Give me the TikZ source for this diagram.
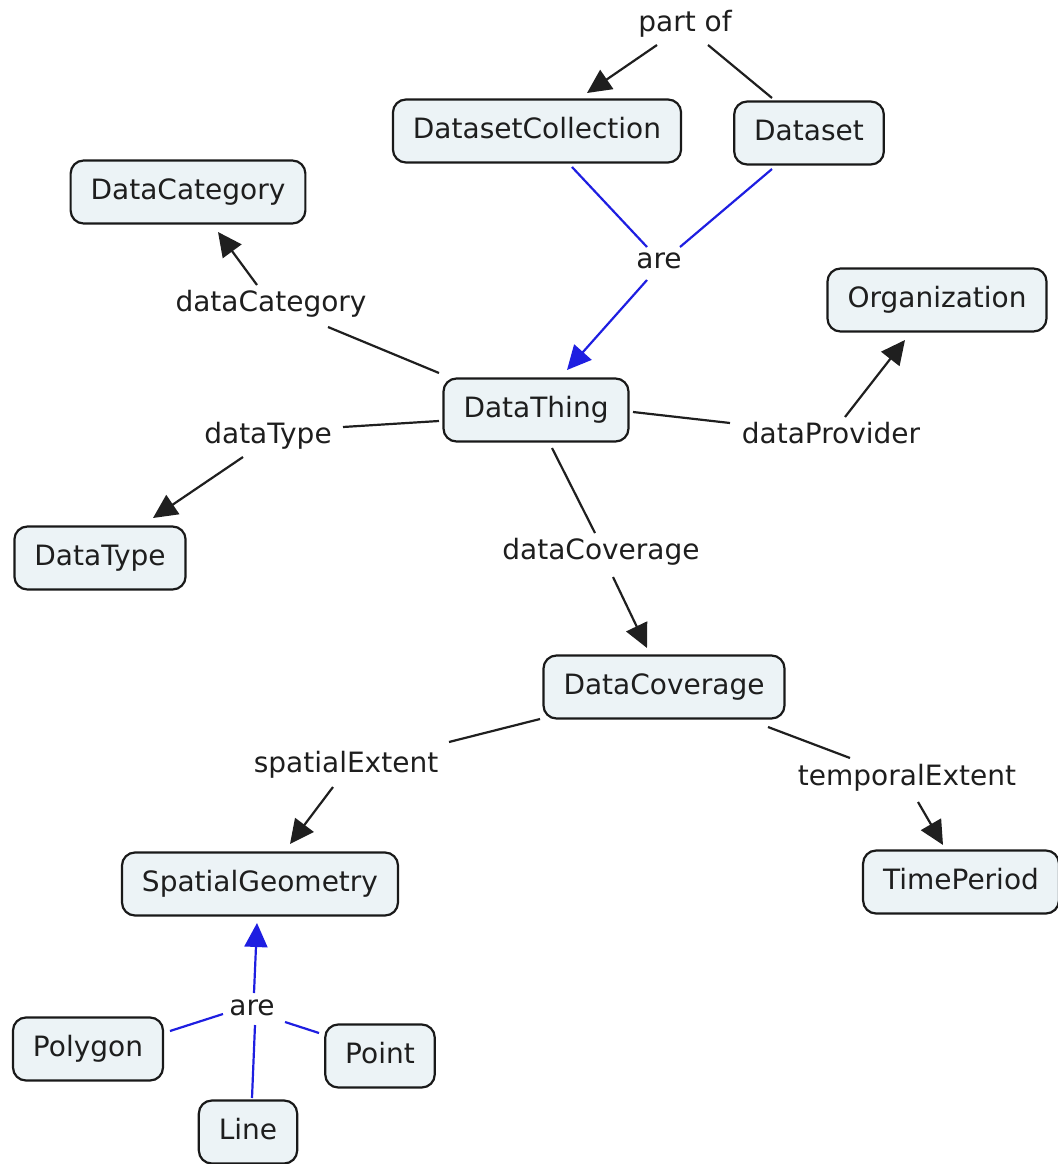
\documentclass[tikz,border=0pt]{standalone}
\usepackage{fontspec}
\setmainfont{DejaVu Sans}
\usetikzlibrary{arrows.meta}
\definecolor{conceptfill}{RGB}{236,243,246}
\definecolor{linkblue}{RGB}{30,30,225}
\definecolor{inktext}{RGB}{30,30,30}
\begin{document}
\begin{tikzpicture}[x=1pt,y=-1pt,
  concept/.style={draw=black!90, line width=2.2pt, fill=conceptfill,
    rounded corners=13pt, inner xsep=20pt, minimum height=63pt,
    text height=20pt, text depth=6pt,
    font=\fontsize{28}{34}\selectfont, text=inktext},
  phrase/.style={inner sep=0pt, font=\fontsize{28}{34}\selectfont, text=inktext},
  link/.style={line width=2.2pt, draw=black!88},
  isa/.style={line width=2.2pt, draw=linkblue},
  head/.style={-{Triangle[length=24pt,width=23pt]}},
]
\useasboundingbox (0,0) rectangle (1057,1164);

% concepts
\node[concept] (dsc)   at (537,131)  {DatasetCollection};
\node[concept] (ds)    at (809,133)  {Dataset};
\node[concept] (dcat)  at (188,192)  {DataCategory};
\node[concept] (org)   at (937,300)  {Organization};
\node[concept] (dt)    at (536,410)  {DataThing};
\node[concept] (dtype) at (100,558)  {DataType};
\node[concept] (dcov)  at (664,687)  {DataCoverage};
\node[concept] (sg)    at (260,884)  {SpatialGeometry};
\node[concept] (tp)    at (961,882)  {TimePeriod};
\node[concept] (poly)  at (88,1049)  {Polygon};
\node[concept] (pt)    at (380,1056) {Point};
\node[concept] (ln)    at (248,1132) {Line};

% linking phrases
\node[phrase] (partof) at (685,24)   {part of};
\node[phrase] (are1)   at (659,261)  {are};
\node[phrase] (lcat)   at (271,304)  {dataCategory};
\node[phrase] (ltype)  at (268,436)  {dataType};
\node[phrase] (lprov)  at (831,433)  {dataProvider};
\node[phrase] (lcov)   at (601,552)  {dataCoverage};
\node[phrase] (lspat)  at (346,765)  {spatialExtent};
\node[phrase] (ltemp)  at (907,778)  {temporalExtent};
\node[phrase] (are2)   at (252,1008) {are};

% part of
\draw[link] ([shift={(-37,-35)}]ds.center) -- ([shift={(23,21)}]partof.center);
\draw[link,head] ([shift={(-28,21)}]partof.center) -- ([shift={(50,-38)}]dsc.center);

% are (datasets)
\draw[isa] ([shift={(35,36)}]dsc.center) -- ([shift={(-12,-14)}]are1.center);
\draw[isa] ([shift={(-37,36)}]ds.center) -- ([shift={(21,-14)}]are1.center);
\draw[isa,head] ([shift={(-12,19)}]are1.center) -- ([shift={(31,-40)}]dt.center);

% dataCategory
\draw[link] ([shift={(-97,-37)}]dt.center) -- ([shift={(57,23)}]lcat.center);
\draw[link,head] ([shift={(-14,-19)}]lcat.center) -- ([shift={(30,40)}]dcat.center);

% dataType
\draw[link] ([shift={(-97,11)}]dt.center) -- ([shift={(75,-9)}]ltype.center);
\draw[link,head] ([shift={(-25,21)}]ltype.center) -- ([shift={(53,-40)}]dtype.center);

% dataProvider
\draw[link] ([shift={(97,2)}]dt.center) -- ([shift={(-101,-10)}]lprov.center);
\draw[link,head] ([shift={(14,-16)}]lprov.center) -- ([shift={(-32,40)}]org.center);

% dataCoverage
\draw[link] ([shift={(16,38)}]dt.center) -- ([shift={(-6,-19)}]lcov.center);
\draw[link,head] ([shift={(12,25)}]lcov.center) -- ([shift={(-17,-39)}]dcov.center);

% spatialExtent
\draw[link] ([shift={(-124,32)}]dcov.center) -- ([shift={(103,-23)}]lspat.center);
\draw[link,head] ([shift={(-13,22)}]lspat.center) -- ([shift={(30,-40)}]sg.center);

% temporalExtent
\draw[link] ([shift={(104,40)}]dcov.center) -- ([shift={(-57,-20)}]ltemp.center);
\draw[link,head] ([shift={(11,24)}]ltemp.center) -- ([shift={(-18,-37)}]tp.center);

% are (geometries)
\draw[isa] ([shift={(82,-18)}]poly.center) -- ([shift={(-29,6)}]are2.center);
\draw[isa] ([shift={(-61,-23)}]pt.center) -- ([shift={(33,14)}]are2.center);
\draw[isa] ([shift={(4,-34)}]ln.center) -- ([shift={(3,17)}]are2.center);
\draw[isa,head] ([shift={(2,-15)}]are2.center) -- ([shift={(-3,39)}]sg.center);
\end{tikzpicture}
\end{document}
